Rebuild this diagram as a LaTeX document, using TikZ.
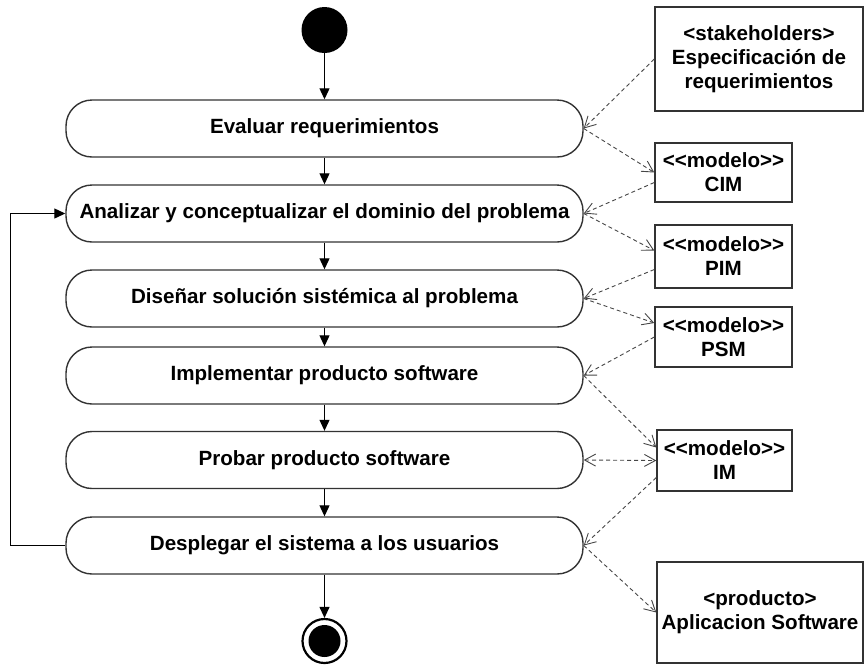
\documentclass[tikz,border=0pt]{standalone}
\usepackage{fontspec}
\setmainfont{Liberation Sans}
\usepackage{tikz}
\usetikzlibrary{arrows.meta,shapes,positioning}
\definecolor{umlline}{RGB}{51,51,51}
\definecolor{umldash}{RGB}{70,70,70}
\tikzstyle{flow} = [line width=1.1pt,-{Triangle[width=10pt,length=11pt]},color=black]
\tikzstyle{dep} = [line width=0.9pt,dash pattern=on 4pt off 3pt,-{Straight Barb[width=12pt,length=11pt]},color=umldash]
\tikzstyle{depboth} = [dep,{Straight Barb[width=12pt,length=11pt]}-{Straight Barb[width=12pt,length=11pt]}]
\tikzstyle{activity} = [rectangle, rounded corners=26pt, minimum width=517pt, minimum height=57pt, text centered, draw=umlline, line width=1.4pt, fill=white]
\tikzstyle{artifact} = [rectangle, align=center, draw=umlline, line width=1.4pt, fill=white, inner sep=0pt]
\tikzstyle{startstate} = [circle, fill=black, minimum size=46pt, inner sep=0pt]
\tikzstyle{endstate} = [circle, draw=black, line width=2.2pt, fill=white, minimum size=44pt, inner sep=0pt]
% stereotype brackets kept apart from the << >> font mapping
\newcommand{\modelo}{<\kern0pt<modelo>\kern0pt>}

\begin{document}
\begin{tikzpicture}[x=1pt, y=1pt,
    node distance=85pt,
    every node/.style={font=\fontsize{20.6}{24}\selectfont\bfseries}]

\useasboundingbox (0,0) rectangle (864,-665);

% Activities
\node (start) [startstate] at (324.5,-30) {};
\node (eval) [activity, below of=start, node distance=98.5pt] {Evaluar requerimientos};
\node (anal) [activity, below of=eval] {Analizar y conceptualizar el dominio del problema};
\node (dis) [activity, below of=anal] {Diseñar solución sistémica al problema};
\node (impl) [activity, below of=dis, node distance=77pt] {Implementar producto software};
\node (prob) [activity, below of=impl, node distance=84.5pt] {Probar producto software};
\node (desp) [activity, below of=prob, node distance=85.5pt] {Desplegar el sistema a los usuarios};
\node (end) [endstate, below of=desp, node distance=95.5pt] {};
\node (endcore) [circle, fill=black, minimum size=32pt, inner sep=0pt] at (end) {};

% Artifacts
\node (stk) [artifact, minimum width=208pt, minimum height=104pt] at (759,-59) {<stakeholders>\\Especificación de\\requerimientos};
\node (cim) [artifact, minimum width=137pt, minimum height=59pt] at (723.5,-172.5) {\modelo\\CIM};
\node (pim) [artifact, minimum width=137pt, minimum height=63pt] at (723.5,-256.5) {\modelo\\PIM};
\node (psm) [artifact, minimum width=137pt, minimum height=60pt] at (723.5,-337) {\modelo\\PSM};
\node (im) [artifact, minimum width=135pt, minimum height=61pt] at (724.5,-460.5) {\modelo\\IM};
\node (prod) [artifact, minimum width=206pt, minimum height=101pt] at (760,-612.5) {<producto>\\Aplicacion Software};

% Control flow
\draw[flow] (start) -- (eval);
\draw[flow] (eval) -- (anal);
\draw[flow] (anal) -- (dis);
\draw[flow] (dis) -- (impl);
\draw[flow] (impl) -- (prob);
\draw[flow] (prob) -- (desp);
\draw[flow] (desp) -- (end);
\draw[flow] (desp.west) -- ++(-55pt,0) |- (anal.west);

% Object flow
\draw[dep] (stk.west) -- (eval.east);
\draw[dep] (eval.east) -- (cim.west);
\draw[dep] ([yshift=-10pt]cim.west) -- (anal.east);
\draw[dep] (anal.east) -- ([yshift=6pt]pim.west);
\draw[dep] ([yshift=-13pt]pim.west) -- (dis.east);
\draw[dep] (dis.east) -- ([yshift=14pt]psm.west);
\draw[dep] (psm.west) -- (impl.east);
\draw[dep] (impl.east) -- ([yshift=13pt]im.west);
\draw[depboth] (prob.east) -- (im.west);
\draw[dep] ([yshift=-17pt]im.west) -- (desp.east);
\draw[dep] (desp.east) -- (prod.west);
\end{tikzpicture}
\end{document}
